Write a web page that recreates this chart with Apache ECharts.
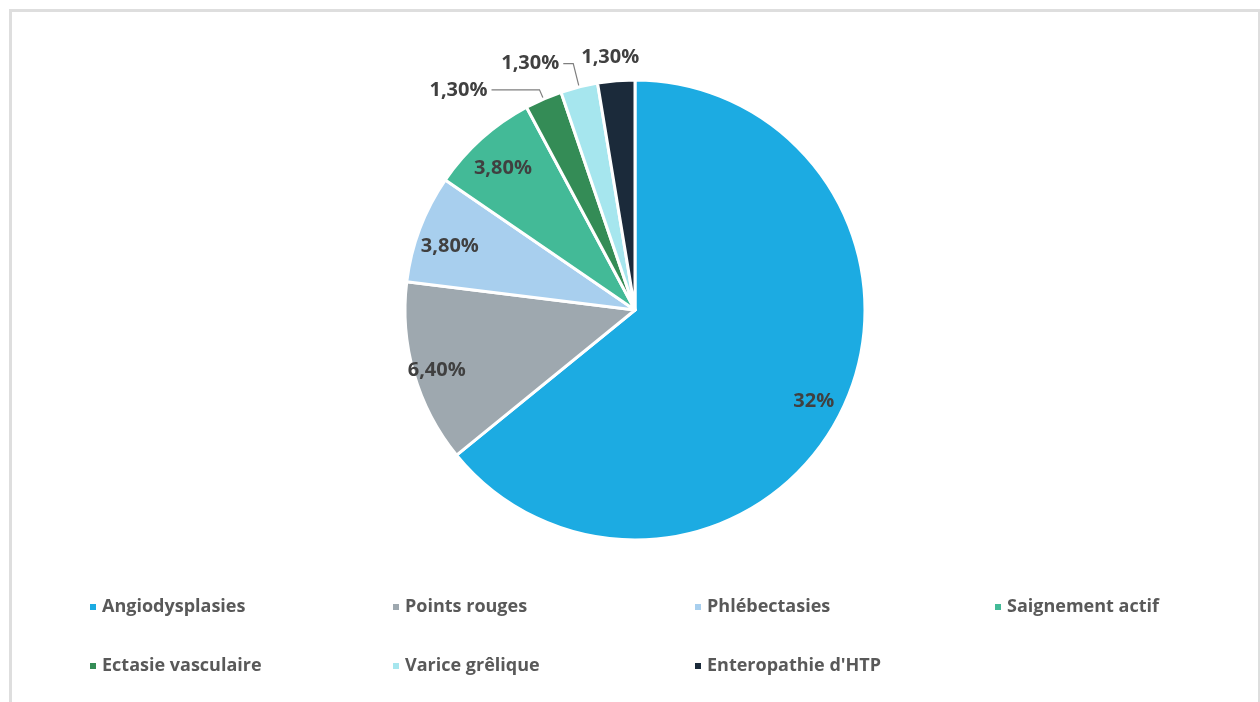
<!DOCTYPE html>
<html>
<head>
<meta charset="utf-8">
<script src="https://cdn.jsdelivr.net/npm/echarts@6/dist/echarts.min.js"></script>
<style>
  html, body { margin: 0; padding: 0; background: #fff; }
  #main { position: absolute; left: 0; top: 0; width: 1260px; height: 702px; }
  .cadre { position: absolute; left: 9px; top: 9px; width: 1246px; height: 720px; border: 3px solid #dedede; pointer-events: none; }
</style>
</head>
<body>
<div id="main"></div>
<div class="cadre"></div>
<script>
// données du graphique
var categories = ['Angiodysplasies', 'Points rouges', 'Phlébectasies', 'Saignement actif', 'Ectasie vasculaire', 'Varice grêlique', "Enteropathie d'HTP"];
var valeurs = [32, 6.4, 3.8, 3.8, 1.3, 1.3, 1.3];
var etiquettes = ['32%', '6,40%', '3,80%', '3,80%', '1,30%', '1,30%', '1,30%'];
var couleurs = ['#1cabe2', '#9ea8af', '#a8cfee', '#43ba97', '#348c56', '#a6e6ee', '#1b2a3a'];

var chart = echarts.init(document.getElementById('main'));

// petites parts : étiquette à l'extérieur
var lignes = [
  null, null, null, null,
  { show: true, length: 10, length2: 48 },
  { show: true, length: 24, length2: 10 },
  { show: false, length: 24, length2: 0 }
];

var dataPrincipale = categories.map(function (nom, i) {
  var d = { name: nom, value: valeurs[i], itemStyle: { color: couleurs[i] } };
  if (lignes[i]) {
    d.label = { show: true };
    d.labelLine = lignes[i];
  } else {
    d.label = { show: false };
    d.labelLine = { show: false };
  }
  return d;
});

// anneau transparent pour placer les étiquettes intérieures près du bord
var dataEtiquettes = categories.map(function (nom, i) {
  return { name: nom, value: valeurs[i], label: { show: i < 4 } };
});

var texteLabel = {
  fontFamily: 'Open Sans',
  fontWeight: 'bold',
  fontSize: 20,
  color: '#404040'
};

// légende : 4 colonnes, 2 lignes
var colonnes = [88, 391, 693, 993];
var rangees = [598, 657];

var legendes = categories.map(function (nom, i) {
  return {
    data: [nom],
    left: colonnes[i % 4],
    top: rangees[Math.floor(i / 4)],
    padding: 0,
    itemWidth: 8,
    itemHeight: 8,
    icon: 'rect',
    textStyle: {
      fontFamily: 'Open Sans',
      fontWeight: 'bold',
      fontSize: 18,
      color: '#595959'
    },
    selectedMode: false
  };
});

var option = {
  backgroundColor: '#fff',
  animation: false,
  legend: legendes,
  series: [{
    type: 'pie',
    center: [635, 310],
    radius: [0, 230],
    startAngle: 90,
    clockwise: true,
    avoidLabelOverlap: false,
    itemStyle: { borderColor: '#fff', borderWidth: 3 },
    label: Object.assign({
      position: 'outside',
      distanceToLabelLine: 4,
      formatter: function (p) { return etiquettes[p.dataIndex]; }
    }, texteLabel),
    labelLine: { lineStyle: { color: '#7f7f7f', width: 1.2 }, smooth: false },
    labelLayout: function (p) {
      if (p.dataIndex === 6) return { align: 'center', hideOverlap: false };
      return { hideOverlap: false };
    },
    emphasis: { disabled: true },
    data: dataPrincipale
  }, {
    type: 'pie',
    center: [635, 310],
    radius: [160, 230],
    startAngle: 90,
    clockwise: true,
    silent: true,
    itemStyle: { color: 'rgba(0,0,0,0)' },
    label: Object.assign({
      position: 'inside',
      formatter: function (p) { return etiquettes[p.dataIndex]; }
    }, texteLabel),
    labelLine: { show: false },
    labelLayout: function (p) {
      return { dy: 6, dx: p.dataIndex === 1 ? -8 : 0 };
    },
    emphasis: { disabled: true },
    data: dataEtiquettes
  }]
};

chart.setOption(option);
</script>
</body>
</html>
